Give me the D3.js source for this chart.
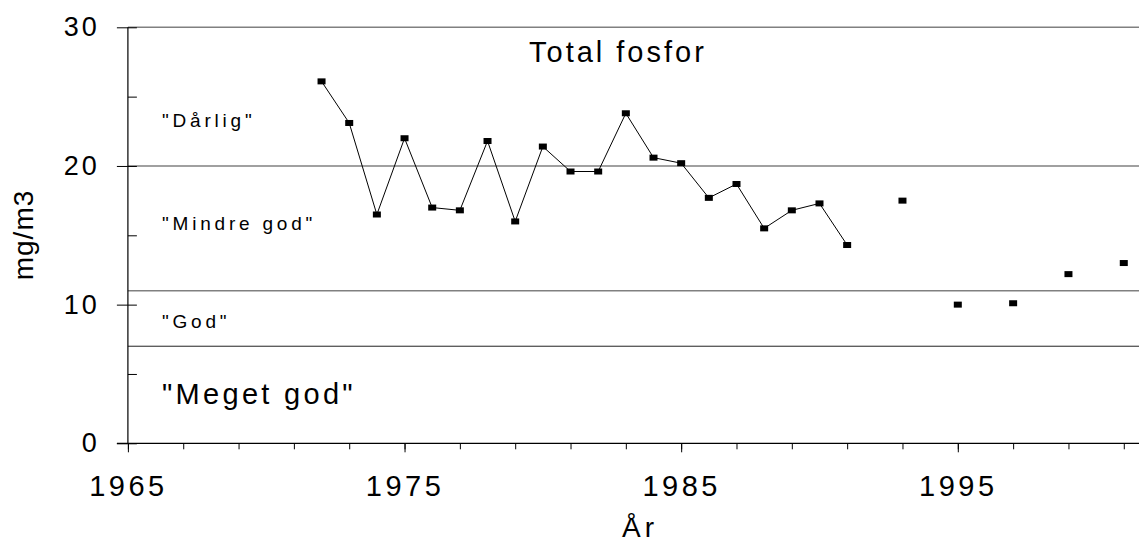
<!DOCTYPE html>
<html>
<head>
<meta charset="utf-8">
<script src="https://cdn.jsdelivr.net/npm/d3@7"></script>
<style>
  html, body { margin: 0; padding: 0; background: #fff; }
  svg { display: block; font-family: "Liberation Sans", Arial, sans-serif; }
</style>
</head>
<body>
<svg id="chart" width="1139" height="544"></svg>
<script>
// ---- data ----
const years  = [1972,1973,1974,1975,1976,1977,1978,1979,1980,1981,1982,1983,1984,1985,1986,1987,1988,1989,1990,1991,1993,1995,1997,1999,2001];
const values = [26.1,23.1,16.5,22.0,17.0,16.8,21.8,16.0,21.4,19.6,19.6,23.8,20.6,20.2,17.7,18.7,15.5,16.8,17.3,14.3,17.5,10.0,10.1,12.2,13.0];
const classBounds = [7, 11, 20, 30];
const classLabels = ['"Meget god"', '"God"', '"Mindre god"', '"Dårlig"'];
const xMajorTicks = [1965, 1975, 1985, 1995];
const xMinorTicks = d3.range(1965, 2002, 2);
const yMajorTicks = [0, 10, 20, 30];
const yAllTicks = [0, 5, 10, 15, 20, 25, 30];
const title = "Total fosfor";
const xTitle = "År";
const yTitle = "mg/m3";

// ---- layout ----
const svg = d3.select("#chart");
const x = d3.scaleLinear().domain([1965, 2001.55]).range([127.9, 1139]);
const y = d3.scaleLinear().domain([0, 30]).range([443.3, 27.3]);
const x0 = x(1965), x1 = 1139;

// class boundary lines
svg.append("g").selectAll("line").data(classBounds).join("line")
  .attr("x1", x0).attr("x2", x1)
  .attr("y1", d => y(d)).attr("y2", d => y(d))
  .attr("stroke", d => d === 7 ? "#222" : "#808080")
  .attr("stroke-width", d => d === 7 ? 1 : 1.4);

// class labels
const labelPos = [2.83, 8.33, 15.38, 22.83];
const labelSize = [29, 19, 19, 19];
svg.append("g").selectAll("text").data(classLabels).join("text")
  .attr("x", 162)
  .attr("y", (d, i) => y(labelPos[i]))
  .attr("font-size", (d, i) => labelSize[i])
  .attr("letter-spacing", (d, i) => i === 0 ? 3.3 : 3.8)
  .attr("fill", "#000")
  .text(d => d);

// y axis: major ticks outward with labels
const yAxisG = svg.append("g").attr("transform", `translate(${x0},0)`)
  .call(d3.axisLeft(y).tickValues(yMajorTicks).tickSize(11).tickPadding(17).tickFormat(d3.format("d")));
yAxisG.select(".domain").remove();
yAxisG.selectAll(".tick line").attr("stroke", "#000");
yAxisG.selectAll(".tick text")
  .attr("font-size", 27).attr("font-family", "Liberation Sans, Arial, sans-serif")
  .attr("letter-spacing", 3).attr("fill", "#000");

// y axis: inner ticks (all)
const yInner = svg.append("g").attr("transform", `translate(${x0},0)`)
  .call(d3.axisRight(y).tickValues(yAllTicks).tickSize(9).tickFormat(""));
yInner.select(".domain").remove();
yInner.selectAll(".tick line").attr("stroke", "#000");

// y axis line
svg.append("line").attr("x1", x0).attr("x2", x0).attr("y1", y(30)).attr("y2", y(0))
  .attr("stroke", "#000").attr("stroke-width", 1.2);

// x axis minor ticks
const xMinor = svg.append("g").attr("transform", `translate(0,${y(0)})`)
  .call(d3.axisBottom(x).tickValues(xMinorTicks).tickSize(6).tickFormat(""));
xMinor.select(".domain").remove();
xMinor.selectAll(".tick line").attr("stroke", "#000");

// x axis major ticks with labels
const xAxisG = svg.append("g").attr("transform", `translate(0,${y(0)})`)
  .call(d3.axisBottom(x).tickValues(xMajorTicks).tickSize(9).tickFormat(d3.format("d")));
xAxisG.select(".domain").remove();
xAxisG.selectAll(".tick line").attr("stroke", "#000");
xAxisG.selectAll(".tick text")
  .attr("y", 52.7).attr("dy", 0)
  .attr("font-size", 29).attr("font-family", "Liberation Sans, Arial, sans-serif")
  .attr("letter-spacing", 3.5).attr("fill", "#000");

// x axis line
svg.append("line").attr("x1", x0 - 11).attr("x2", x1).attr("y1", y(0)).attr("y2", y(0))
  .attr("stroke", "#000").attr("stroke-width", 1.2);

// data: split into runs of consecutive years
const pts = years.map((yr, i) => ({ yr, v: values[i] }));
const runs = [];
pts.forEach((p, i) => {
  if (i === 0 || p.yr - pts[i - 1].yr !== 1) runs.push([p]);
  else runs[runs.length - 1].push(p);
});
const line = d3.line().x(d => x(d.yr)).y(d => y(d.v));
svg.append("g").selectAll("path").data(runs.filter(r => r.length > 1)).join("path")
  .attr("d", line).attr("fill", "none").attr("stroke", "#000").attr("stroke-width", 1);

svg.append("g").selectAll("rect").data(pts).join("rect")
  .attr("x", d => x(d.yr) - 4).attr("y", d => y(d.v) - 3)
  .attr("width", 8).attr("height", 6).attr("fill", "#000");

// titles
svg.append("text").attr("x", 529).attr("y", 62).attr("font-size", 29)
  .attr("letter-spacing", 3).attr("fill", "#000").text(title);
svg.append("text").attr("x", 622).attr("y", 537).attr("font-size", 28)
  .attr("letter-spacing", 4).attr("fill", "#000").text(xTitle);
svg.append("text").attr("transform", "translate(33,235) rotate(-90)")
  .attr("text-anchor", "middle").attr("font-size", 28)
  .attr("letter-spacing", 1).attr("fill", "#000").text(yTitle);
</script>
</body>
</html>
